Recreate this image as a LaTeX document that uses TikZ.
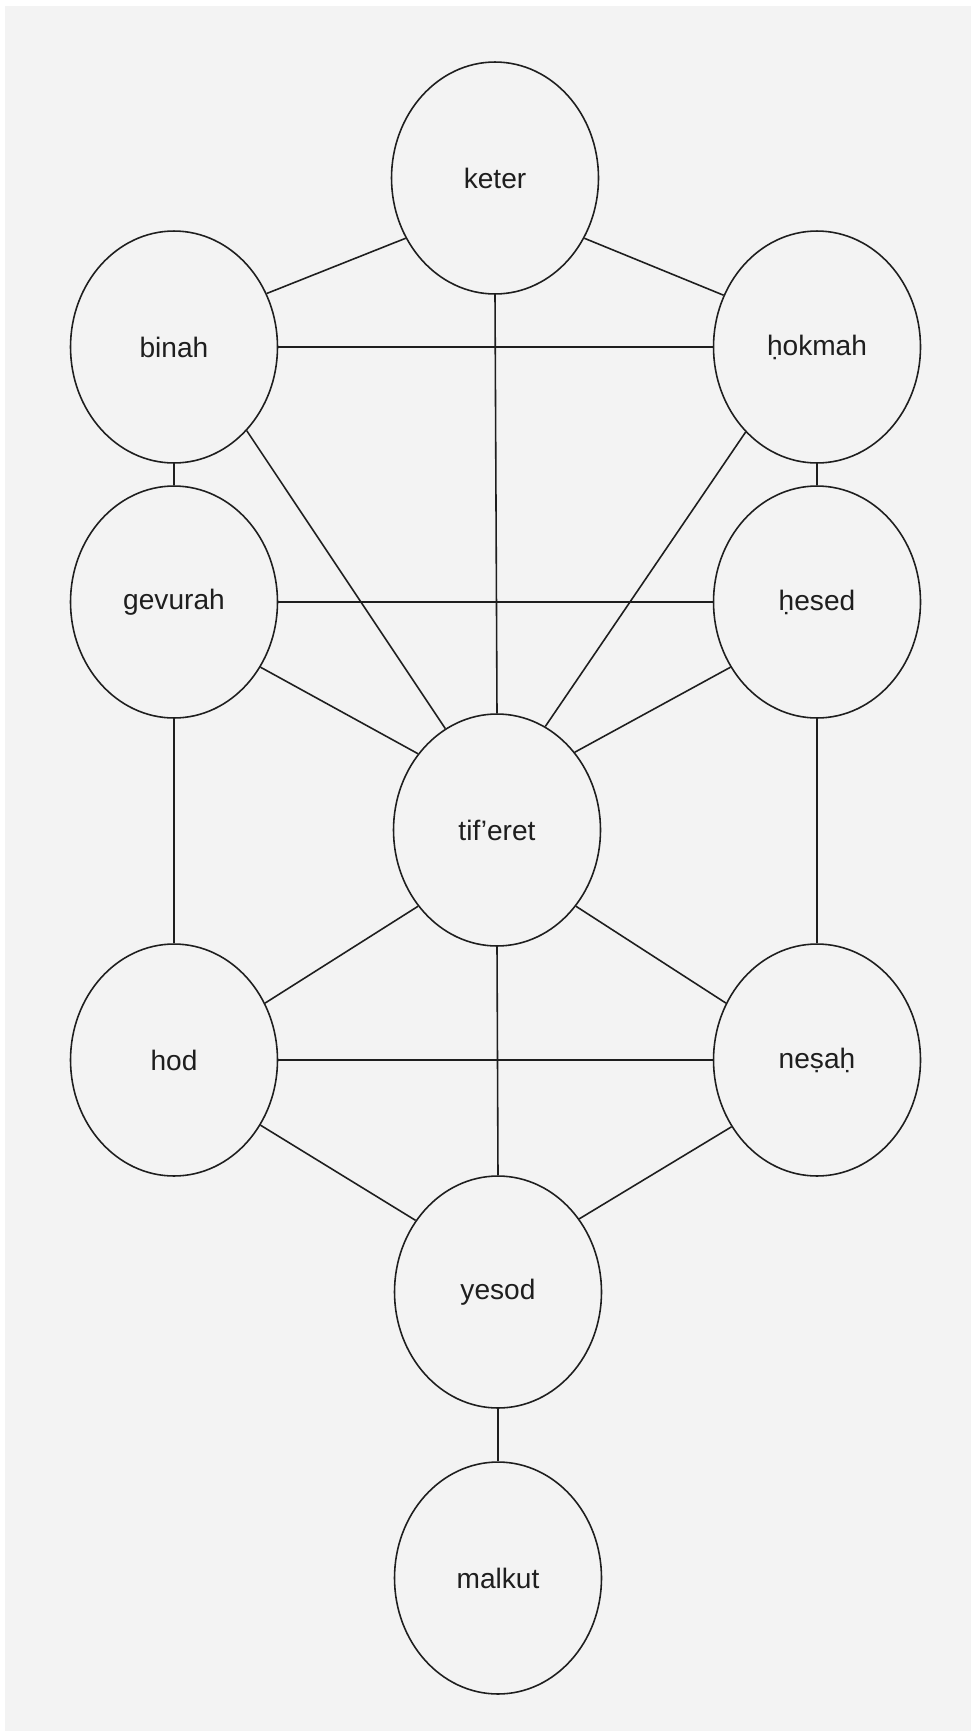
\documentclass[tikz,border=0pt]{standalone}
\usepackage{fontspec}
\setmainfont{Liberation Sans}
\usetikzlibrary{shapes.geometric}
\definecolor{paper}{HTML}{F3F3F3}
\definecolor{ink}{HTML}{1E1E1E}

\begin{document}
\begin{tikzpicture}[
  x=0.02cm, y=-0.02cm,
  sefira/.style={draw=ink, ellipse, line width=0.9pt, minimum width=4.14cm, minimum height=4.64cm, inner sep=0pt, text=ink, font=\fontsize{16}{19}\selectfont},
  channel/.style={draw=ink, line width=0.9pt}
]
\useasboundingbox (0,0) rectangle (971,1731);
\fill[paper] (5,6) rectangle (971,1731);

\node[sefira] (keter)   at (495,178)  {keter};
\node[sefira] (binah)   at (174,347)  {binah};
\node[sefira] (hokmah)  at (817,347)  {ḥokmah};
\node[sefira] (gevurah) at (174,602)  {gevurah};
\node[sefira] (hesed)   at (817,602)  {ḥesed};
\node[sefira] (tiferet) at (497,830)  {tif’eret};
\node[sefira] (hod)     at (174,1060) {hod};
\node[sefira] (nesah)   at (817,1060) {neṣaḥ};
\node[sefira] (yesod)   at (498,1292) {yesod};
\node[sefira] (malkut)  at (498,1578) {malkut};

% paths between the sefirot
\foreach \a/\b in {keter.214/binah.30, keter.-34/hokmah.151, keter.south/tiferet.north,
                   binah.east/hokmah.west, binah.south/gevurah.north, binah.-49/tiferet.117,
                   hokmah.south/hesed.north, hokmah.230/tiferet.65,
                   gevurah.east/hesed.west, gevurah.-37/tiferet.136, gevurah.south/hod.north,
                   hesed.217/tiferet.45, hesed.south/nesah.north,
                   tiferet.224/hod.32, tiferet.-44/nesah.148, tiferet.south/yesod.north,
                   hod.east/nesah.west, hod.-37/yesod.139, nesah.218/yesod.42,
                   yesod.south/malkut.north}
  \draw[channel] (\a) -- (\b);
\end{tikzpicture}
\end{document}
